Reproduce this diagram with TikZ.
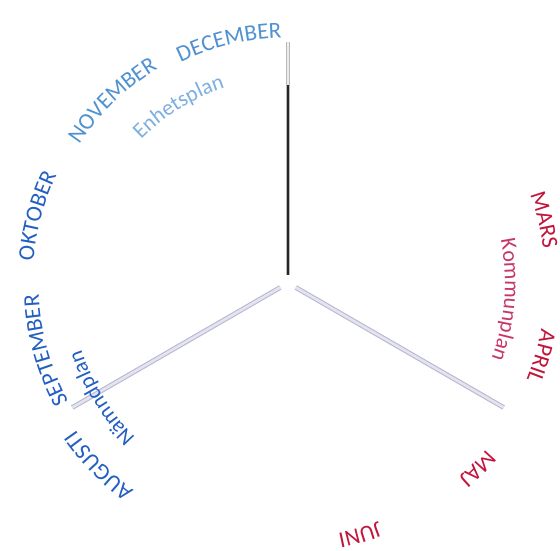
\documentclass[tikz,border=0pt]{standalone}
\usepackage{fontspec}
\setmainfont{Carlito}
\usetikzlibrary{decorations.text}
\definecolor{blueA}{RGB}{35,95,195}
\definecolor{blueB}{RGB}{80,145,210}
\definecolor{blueC}{RGB}{125,175,225}
\definecolor{redA}{RGB}{195,20,60}
\definecolor{redB}{RGB}{200,55,105}
\definecolor{lavA}{RGB}{185,185,210}
\definecolor{lavB}{RGB}{228,228,240}
\newcommand\monthfont{\fontsize{23pt}{23pt}\selectfont}
\newcommand\planfont{\fontsize{22pt}{22pt}\selectfont}
% #1 angle, #2 baseline radius, #3 half arc, #4 colour, #5 font, #6 text
\newcommand\mylabel[6]{%
  \pgfmathsetmacro\aS{#1+#3}%
  \pgfmathsetmacro\aE{#1-#3}%
  \path[decorate,decoration={text along path,text align=center,text color=#4,
        text={|#5|#6}}]
    (C) ++(\aS:#2) arc[start angle=\aS,end angle=\aE,radius=#2];}
\tikzset{
  spoke/.style={draw=lavA,double=lavB,line width=1.1pt,double distance=2.6pt},
  topspoke/.style={draw=gray!55,double=gray!15,line width=0.8pt,double distance=2.4pt},
  core/.style={draw=black!85,line width=2.2pt}
}
\begin{document}
\begin{tikzpicture}[x=1pt,y=1pt]
\useasboundingbox (0,0) rectangle (560,551);
\fill[white] (0,0) rectangle (560,551);
\coordinate (C) at (288,268);
% spokes
\coordinate (Vs) at (288,276);
\coordinate (Vm) at (288,466);
\coordinate (Ve) at (288,509);
\path (C) ++(210:9) coordinate (Ls) (C) ++(210:249) coordinate (Le);
\path (C) ++(330:9) coordinate (Rs) (C) ++(330:249) coordinate (Re);
\draw[topspoke] (Vs) -- (Ve);
\draw[core] (Vs) -- (Vm);
\draw[spoke] (Ls) -- (Le);
\draw[spoke] (Rs) -- (Re);
% month labels
\mylabel{103.7}{245.5}{20}{blueB}{\monthfont}{DECEMBER}
\mylabel{133.9}{250.5}{20}{blueB}{\monthfont}{NOVEMBER}
\mylabel{165}{255.5}{20}{blueA}{\monthfont}{OKTOBER}
\mylabel{195.5}{249.5}{20}{blueA}{\monthfont}{SEPTEMBER}
\mylabel{224}{258.5}{20}{blueA}{\monthfont}{AUGUSTI}
\mylabel{286}{255.5}{20}{redA}{\monthfont}{JUNI}
\mylabel{315.6}{258.5}{20}{redA}{\monthfont}{MAJ}
\mylabel{343.8}{257.5}{20}{redA}{\monthfont}{APRIL}
\mylabel{13.8}{257.5}{20}{redA}{\monthfont}{MARS}
% plan labels
\mylabel{121.8}{205}{25}{blueC}{\planfont}{Enhetsplan}
\mylabel{355.6}{217}{25}{redB}{\planfont}{Kommunplan}
\mylabel{211.6}{217}{25}{blueA}{\planfont}{Nämndplan}
\end{tikzpicture}
\end{document}
